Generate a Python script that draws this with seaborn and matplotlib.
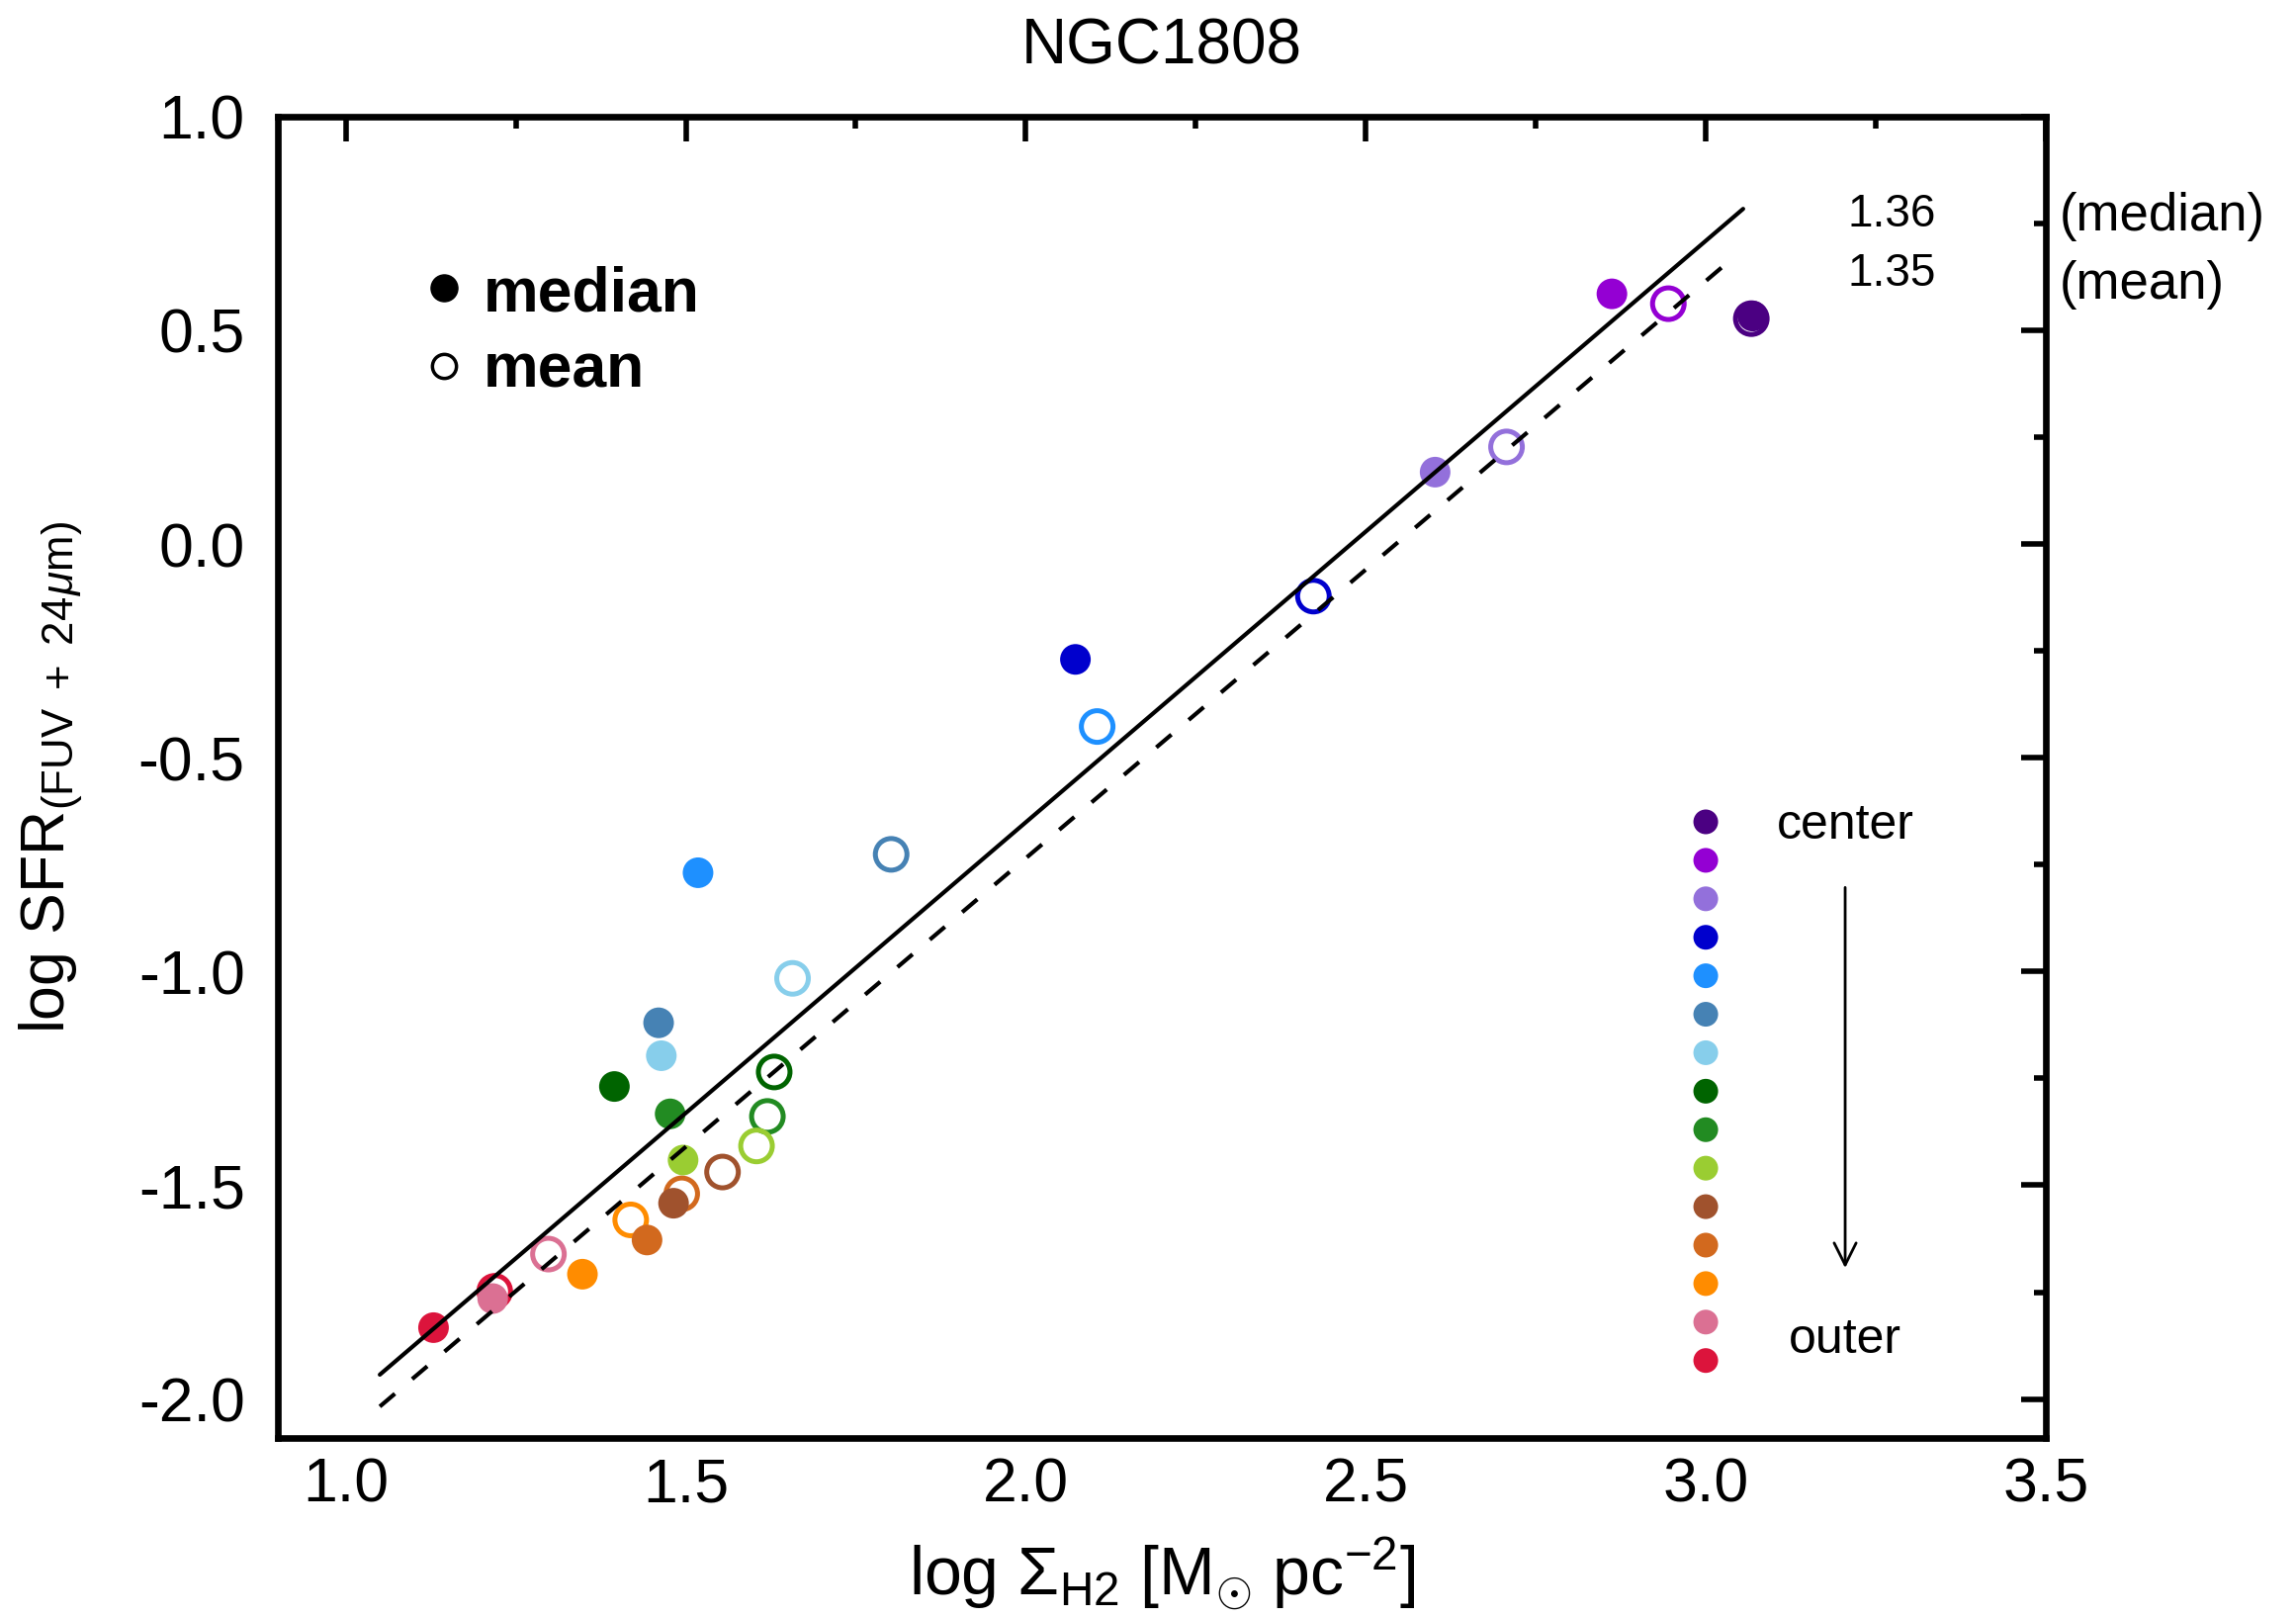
import numpy as np
import pandas as pd
import matplotlib
matplotlib.use("Agg")
import matplotlib.pyplot as plt
import seaborn as sns
from matplotlib.ticker import MultipleLocator, FormatStrFormatter

# Annuli from the galaxy center outwards
rings = [f"ring{i:02d}" for i in range(1, 16)]
ring_colors = ["#4B0082", "#9400D3", "#9370DB", "#0000CD", "#1E90FF",
               "#4682B4", "#87CEEB", "#006400", "#228B22", "#9ACD32",
               "#A0522D", "#D2691E", "#FF8C00", "#DB7093", "#DC143C"]

# log Sigma_H2 and log SFR per ring: median (filled) and mean (open)
median_x = [3.069, 2.862, 2.602, 2.073, 1.518, 1.460, 1.464, 1.395,
            1.477, 1.496, 1.482, 1.443, 1.348, 1.216, 1.129]
median_y = [0.533, 0.585, 0.168, -0.270, -0.769, -1.120, -1.197, -1.269,
            -1.333, -1.441, -1.542, -1.628, -1.708, -1.765, -1.833]
mean_x = [3.067, 2.945, 2.707, 2.423, 2.105, 1.802, 1.657, 1.630,
          1.620, 1.604, 1.554, 1.494, 1.419, 1.298, 1.219]
mean_y = [0.527, 0.562, 0.227, -0.122, -0.427, -0.726, -1.016, -1.235,
          -1.339, -1.408, -1.469, -1.520, -1.581, -1.661, -1.748]

# Linear fits (slope, intercept, x range)
fit_median = (1.36, -3.371, [1.05, 3.055])
fit_mean = (1.35, -3.435, [1.05, 3.035])

x_ticks = [1.0, 1.5, 2.0, 2.5, 3.0, 3.5]
y_ticks = [-2.0, -1.5, -1.0, -0.5, 0.0, 0.5, 1.0]

sns.set_theme(style="white")
plt.rcParams["font.family"] = ["Liberation Sans", "DejaVu Sans"]
plt.rcParams["mathtext.fontset"] = "custom"
plt.rcParams["mathtext.rm"] = "Liberation Sans"
plt.rcParams["mathtext.it"] = "Liberation Sans:italic"
plt.rcParams["mathtext.bf"] = "Liberation Sans:bold"
plt.rcParams["axes.unicode_minus"] = False
for key_name in ["text.color", "axes.labelcolor", "xtick.color", "ytick.color",
                 "axes.edgecolor"]:
    plt.rcParams[key_name] = "black"

df = pd.DataFrame({"ring": rings, "median_x": median_x, "median_y": median_y,
                   "mean_x": mean_x, "mean_y": mean_y})
palette = dict(zip(rings, ring_colors))

fig = plt.figure(figsize=(23.22, 16.35), dpi=100)
ax = fig.add_axes([0.121, 0.111, 0.770, 0.817])

# Mean values: hollow circles
sns.scatterplot(data=df, x="mean_x", y="mean_y", hue="ring", palette=palette,
                s=530, linewidth=3.6, legend=False, ax=ax, zorder=2)
coll = ax.collections[-1]
coll.set_edgecolors(coll.get_facecolors())
coll.set_facecolors("none")

# Median values: filled circles
sns.scatterplot(data=df, x="median_x", y="median_y", hue="ring", palette=palette,
                s=497, linewidth=0, legend=False, ax=ax, zorder=2)

# Fit lines
for (slope, icpt, xr), ls in [(fit_median, "-"), (fit_mean, (0, (4.8, 5.5)))]:
    xs = np.array(xr)
    ax.plot(xs, slope * xs + icpt, color="black", lw=3.0, ls=ls, zorder=3)

# Colour key, center to outer
key_x = np.full(len(rings), 3.0)
key_y = -0.65 - 0.09 * np.arange(len(rings))
key = pd.DataFrame({"x": key_x, "y": key_y, "ring": rings})
sns.scatterplot(data=key, x="x", y="y", hue="ring", palette=palette, s=324,
                linewidth=0, legend=False, ax=ax, zorder=2)
ax.text(3.205, -0.66, "center", fontsize=36, ha="center", va="center")
ax.text(3.205, -1.861, "outer", fontsize=36, ha="center", va="center")
ax.annotate("", xy=(3.205, -1.70), xytext=(3.205, -0.797),
            arrowprops=dict(arrowstyle="->", color="black", lw=2.0,
                            mutation_scale=40))

# Marker legend
ax.plot([0.094], [0.870], "o", color="black", ms=19.5, transform=ax.transAxes)
ax.plot([0.094], [0.811], "o", mfc="white", mec="black", mew=2.5, ms=17.5,
        transform=ax.transAxes)
ax.text(0.116, 0.853, "median", fontsize=45, fontweight="bold",
        transform=ax.transAxes, va="baseline")
ax.text(0.116, 0.795, "mean", fontsize=45, fontweight="bold",
        transform=ax.transAxes, va="baseline")

# Fit slopes
ax.text(0.913, 0.917, f"{fit_median[0]:.2f}", fontsize=33, ha="center",
        va="baseline", transform=ax.transAxes)
ax.text(0.913, 0.872, f"{fit_mean[0]:.2f}", fontsize=33, ha="center",
        va="baseline", transform=ax.transAxes)
ax.text(1.008, 0.914, "(median)", fontsize=38, ha="left", va="baseline",
        transform=ax.transAxes, clip_on=False)
ax.text(1.008, 0.862, "(mean)", fontsize=38, ha="left", va="baseline",
        transform=ax.transAxes, clip_on=False)

ax.set_xlim(0.9, 3.5)
ax.set_ylim(-2.09, 1.0)
ax.set_xticks(x_ticks)
ax.set_yticks(y_ticks)
ax.xaxis.set_major_formatter(FormatStrFormatter("%.1f"))
ax.yaxis.set_major_formatter(FormatStrFormatter("%.1f"))
ax.xaxis.set_minor_locator(MultipleLocator(0.25))
ax.yaxis.set_minor_locator(MultipleLocator(0.25))
ax.tick_params(which="both", direction="in", top=True, right=True,
               width=4, color="black", labelsize=45, labelcolor="black")
ax.tick_params(which="major", length=18)
ax.tick_params(which="minor", length=8.5)
ax.tick_params(axis="x", pad=14)
ax.tick_params(axis="y", pad=24)
for sp in ax.spines.values():
    sp.set_linewidth(4.8)
    sp.set_color("black")

ax.set_xlabel(r"log $\Sigma_{\rm H2}$ [M$_{\odot}$ pc$^{-2}$]", fontsize=49)
ax.set_ylabel(r"log SFR$_{\rm (FUV\ +\ 24}$$_{\mu {\rm m)}}$", fontsize=45)
ax.xaxis.set_label_coords(0.5, -0.074)
ax.yaxis.set_label_coords(-0.109, 0.5)
ax.set_title("NGC1808", fontsize=46, pad=38, color="black")

fig.savefig("out.png", dpi=100)
